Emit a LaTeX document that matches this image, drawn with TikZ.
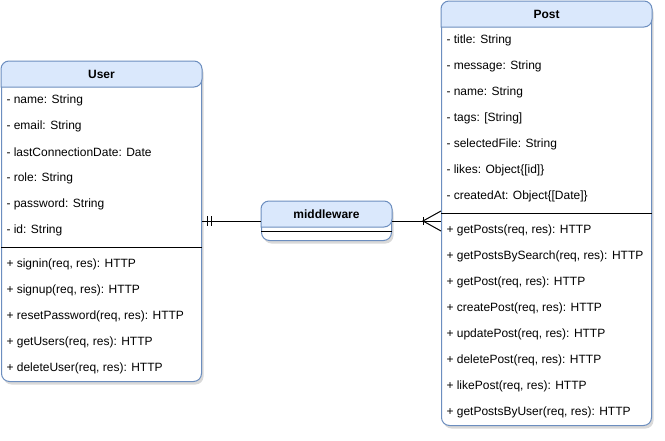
\documentclass[tikz,border=0pt]{standalone}
\usepackage{fontspec}
\setmainfont{Liberation Sans}
\usepackage{xcolor}
\usetikzlibrary{shadows,positioning}
\definecolor{headblue}{HTML}{DAE8FC}
\definecolor{edgeblue}{HTML}{6C8EBF}
\begin{document}
\begin{tikzpicture}[x=1pt,y=-1pt,line width=1pt,
    classbox/.style={draw=edgeblue,fill=white,rounded corners=8pt,anchor=north west,inner sep=0pt,
      drop shadow={opacity=0.3,shadow xshift=2pt,shadow yshift=-3pt}},
    header/.style={fill=headblue,draw=edgeblue},
    row/.style={anchor=west,inner sep=0pt,font=\fontsize{12}{14}\selectfont},
    title/.style={inner sep=0pt,font=\bfseries\fontsize{12}{14}\selectfont},
    link/.style={draw=black}]
   \useasboundingbox (0,0) rectangle (665,440);
   % class boxes
   \node[classbox,minimum width=200pt,minimum height=320pt] (user) at (1,61) {};
   \node[classbox,minimum width=210pt,minimum height=424pt] (post) at (441,1) {};
   \node[classbox,minimum width=130pt,minimum height=39pt] (mw) at (261,201) {};
   \foreach \c in {user,post,mw}
     \filldraw[header] ([yshift=-26pt]\c.north west) [rounded corners=8pt] |- (\c.north) -| ([yshift=-26pt]\c.north east) [sharp corners] -- cycle;
   \node[title] (userhead) at ([yshift=-13pt]user.north) {User};
   \node[title] (posthead) at ([yshift=-13pt]post.north) {Post};
   \node[title] (mwhead) at ([yshift=-13pt]mw.north) {middleware};
   % separators
   \draw[link] ([yshift=-186pt]user.north west) -- ([yshift=-186pt]user.north east);
   \draw[link] ([yshift=-212pt]post.north west) -- ([yshift=-212pt]post.north east);
   \draw[link] ([yshift=-30pt]mw.north west) -- ([yshift=-30pt]mw.north east);
   % User
   \foreach \txt [count=\i] in {{- name: String},{- email: String},{- lastConnectionDate: Date},{- role: String},{- password: String},{- id: String}}
     \node[row] (userattr\i) at ([xshift=5pt,yshift={-(13+26*\i)*1pt}]user.north west) {\txt};
   \foreach \txt [count=\i] in {{+ signin(req, res): HTTP},{+ signup(req, res): HTTP},{+ resetPassword(req, res): HTTP},{+ getUsers(req, res): HTTP},{+ deleteUser(req, res): HTTP}}
     \node[row] (userop\i) at ([xshift=5pt,yshift={-(177+26*\i)*1pt}]user.north west) {\txt};
   % Post
   \foreach \txt [count=\i] in {{- title: String},{- message: String},{- name: String},{- tags: [String]},{- selectedFile: String},{- likes: Object\{[id]\}},{- createdAt: Object\{[Date]\}}}
     \node[row] (postattr\i) at ([xshift=5pt,yshift={-(13+26*\i)*1pt}]post.north west) {\txt};
   \foreach \txt [count=\i] in {{+ getPosts(req, res): HTTP},{+ getPostsBySearch(req, res): HTTP},{+ getPost(req, res): HTTP},{+ createPost(req, res): HTTP},{+ updatePost(req, res): HTTP},{+ deletePost(req, res): HTTP},{+ likePost(req, res): HTTP},{+ getPostsByUser(req, res): HTTP}}
     \node[row] (postop\i) at ([xshift=5pt,yshift={-(203+26*\i)*1pt}]post.north west) {\txt};
   % links
   \draw[link] (mw.west -| user.east) -- (mw.west);
   \draw[link] ([xshift=5pt,yshift=5pt]mw.west -| user.east) -- ([xshift=5pt,yshift=-5pt]mw.west -| user.east);
   \draw[link] ([xshift=9pt,yshift=5pt]mw.west -| user.east) -- ([xshift=9pt,yshift=-5pt]mw.west -| user.east);
   \draw[link] (mw.east) -- (mw.east -| post.west);
   \coordinate (crow) at ([xshift=-18pt]mw.east -| post.west);
   \draw[link] ([yshift=10pt]mw.east -| post.west) -- (crow) -- ([yshift=-10pt]mw.east -| post.west);
   \draw[link] ([yshift=4pt]crow) -- ([yshift=-4pt]crow);
\end{tikzpicture}
\end{document}
